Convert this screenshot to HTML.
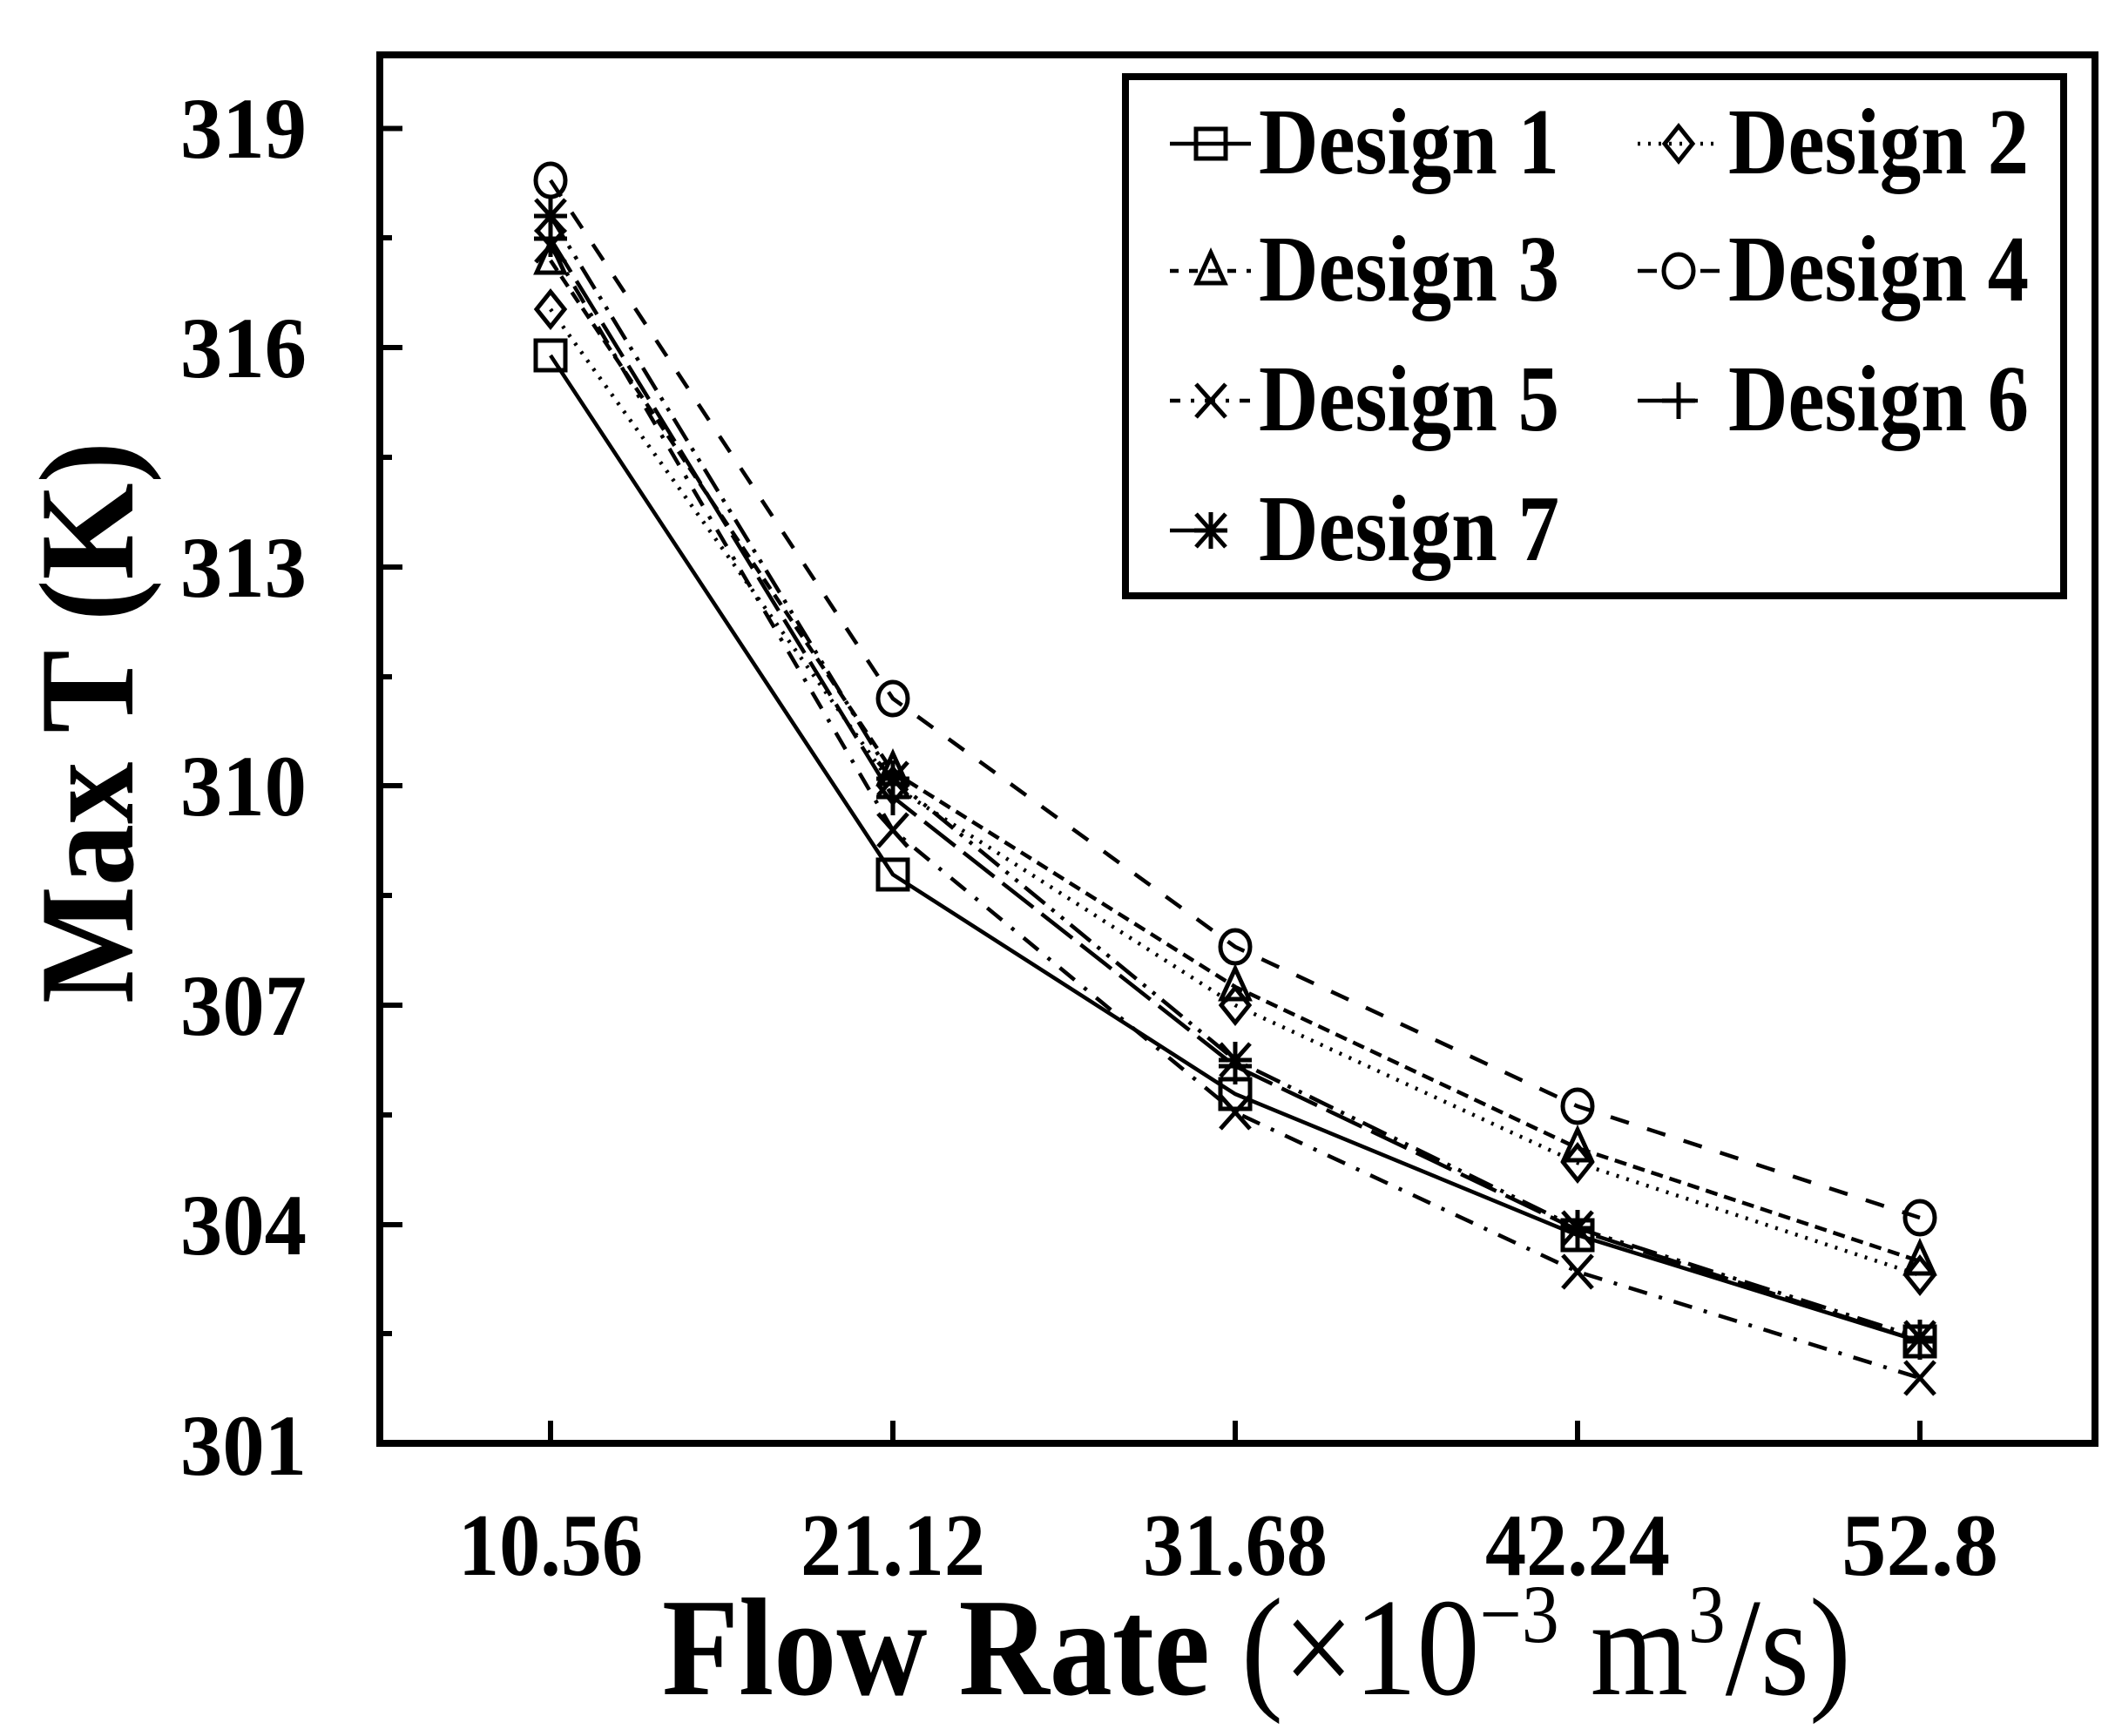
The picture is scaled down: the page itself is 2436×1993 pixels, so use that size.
<!DOCTYPE html>
<html><head><meta charset="utf-8"><style>
html,body{margin:0;padding:0;background:#fff;}
svg{display:block;}
text{font-family:"Liberation Serif",serif;font-weight:bold;fill:#000;}
</style></head><body>
<svg width="2436" height="1993" viewBox="0 0 2436 1993" xmlns="http://www.w3.org/2000/svg">
<defs>
<g id="sq"><rect x="-17" y="-17" width="34" height="34" fill="none" stroke="#000" stroke-width="5"/></g>
<g id="di"><path d="M0,-20 L16,0 L0,20 L-16,0 Z" fill="none" stroke="#000" stroke-width="5"/></g>
<g id="tr"><path d="M0,-21 L16,14 L-16,14 Z" fill="none" stroke="#000" stroke-width="5"/></g>
<g id="ci"><ellipse cx="0" cy="0" rx="17" ry="19" fill="none" stroke="#000" stroke-width="5"/></g>
<g id="xx"><path d="M-17,-19 L17,19 M17,-19 L-17,19" stroke="#000" stroke-width="5"/></g>
<g id="pl"><path d="M-19,0 L19,0 M0,-21 L0,21" stroke="#000" stroke-width="5"/></g>
<g id="as"><path d="M-17,-19 L17,19 M17,-19 L-17,19 M0,-21 L0,21 M-19,0 L19,0" stroke="#000" stroke-width="5"/></g>
</defs>
<rect x="436" y="63" width="1969" height="1594" fill="none" stroke="#000" stroke-width="8"/>
<g stroke="#000" stroke-width="6">
<path d="M436,147.5h26 M436,399h26 M436,651h26 M436,902h26 M436,1154h26 M436,1406h26"/>
<path d="M436,273h14 M436,525h14 M436,777h14 M436,1028h14 M436,1280h14 M436,1531h14"/>
<path d="M632,1657v-26 M1025,1657v-26 M1418,1657v-26 M1811,1657v-26 M2204,1657v-26"/>
</g>
<g font-size="100" text-anchor="end">
<text x="352" y="181" textLength="145" lengthAdjust="spacingAndGlyphs">319</text>
<text x="352" y="433" textLength="145" lengthAdjust="spacingAndGlyphs">316</text>
<text x="352" y="685" textLength="145" lengthAdjust="spacingAndGlyphs">313</text>
<text x="352" y="936" textLength="145" lengthAdjust="spacingAndGlyphs">310</text>
<text x="352" y="1188" textLength="145" lengthAdjust="spacingAndGlyphs">307</text>
<text x="352" y="1440" textLength="145" lengthAdjust="spacingAndGlyphs">304</text>
<text x="352" y="1693" textLength="145" lengthAdjust="spacingAndGlyphs">301</text>
</g>
<g font-size="102">
<text x="526" y="1808" textLength="212" lengthAdjust="spacingAndGlyphs">10.56</text>
<text x="919" y="1808" textLength="212" lengthAdjust="spacingAndGlyphs">21.12</text>
<text x="1312" y="1808" textLength="212" lengthAdjust="spacingAndGlyphs">31.68</text>
<text x="1705" y="1808" textLength="212" lengthAdjust="spacingAndGlyphs">42.24</text>
<text x="2114" y="1808" textLength="180" lengthAdjust="spacingAndGlyphs">52.8</text>
</g>
<text x="760" y="1945" font-size="160" textLength="1365" lengthAdjust="spacingAndGlyphs">Flow Rate <tspan font-weight="normal">(×10</tspan><tspan font-weight="normal" font-size="95" dy="-60">−3</tspan><tspan font-weight="normal" dy="60"> m</tspan><tspan font-weight="normal" font-size="95" dy="-60">3</tspan><tspan font-weight="normal" dy="60">/s)</tspan></text>
<text transform="translate(152,830) rotate(-90)" font-size="155" x="-322" textLength="645" lengthAdjust="spacingAndGlyphs">Max T (K)</text>
<g fill="none" stroke="#000" stroke-width="4.5">
<polyline points="632,408 1025,1004 1418,1256 1811,1418 2204,1540"/>
<polyline stroke-dasharray="3,9" points="632,355 1025,902 1418,1154 1811,1335 2204,1464"/>
<polyline stroke-dasharray="14,8" points="632,299 1025,886 1418,1133 1811,1318 2204,1448"/>
<polyline stroke-dasharray="22,22" points="632,207 1025,802 1418,1087 1811,1270 2204,1398"/>
<polyline stroke-dasharray="22,14,4,14" points="632,282 1025,953 1418,1277 1811,1460 2204,1582"/>
<polyline stroke-dasharray="45,12" points="632,274 1025,915 1418,1224 1811,1412 2204,1540"/>
<polyline stroke-dasharray="30,10,4,10,4,10" points="632,248 1025,894 1418,1217 1811,1410 2204,1536"/>
</g>
<g>
<use href="#sq" x="632" y="408"/><use href="#sq" x="1025" y="1004"/><use href="#sq" x="1418" y="1256"/><use href="#sq" x="1811" y="1418"/><use href="#sq" x="2204" y="1540"/>
<use href="#di" x="632" y="355"/><use href="#di" x="1025" y="902"/><use href="#di" x="1418" y="1154"/><use href="#di" x="1811" y="1335"/><use href="#di" x="2204" y="1464"/>
<use href="#tr" x="632" y="299"/><use href="#tr" x="1025" y="886"/><use href="#tr" x="1418" y="1133"/><use href="#tr" x="1811" y="1318"/><use href="#tr" x="2204" y="1448"/>
<use href="#ci" x="632" y="207"/><use href="#ci" x="1025" y="802"/><use href="#ci" x="1418" y="1087"/><use href="#ci" x="1811" y="1270"/><use href="#ci" x="2204" y="1398"/>
<use href="#xx" x="632" y="282"/><use href="#xx" x="1025" y="953"/><use href="#xx" x="1418" y="1277"/><use href="#xx" x="1811" y="1460"/><use href="#xx" x="2204" y="1582"/>
<use href="#pl" x="632" y="274"/><use href="#pl" x="1025" y="915"/><use href="#pl" x="1418" y="1224"/><use href="#pl" x="1811" y="1412"/><use href="#pl" x="2204" y="1540"/>
<use href="#as" x="632" y="248"/><use href="#as" x="1025" y="894"/><use href="#as" x="1418" y="1217"/><use href="#as" x="1811" y="1410"/><use href="#as" x="2204" y="1536"/>
</g>
<rect x="1292" y="88" width="1077" height="596" fill="#fff" stroke="#000" stroke-width="8"/>
<g fill="none" stroke="#000" stroke-width="4.5">
<line x1="1343" y1="165" x2="1436" y2="165"/>
<line x1="1880" y1="165" x2="1975" y2="165" stroke-dasharray="3,9"/>
<line x1="1343" y1="311" x2="1436" y2="311" stroke-dasharray="10,12"/>
<line x1="1880" y1="311" x2="1975" y2="311" stroke-dasharray="22,50"/>
<line x1="1343" y1="460" x2="1436" y2="460" stroke-dasharray="12,12,4,12"/>
<line x1="1880" y1="460" x2="1975" y2="460" stroke-dasharray="45,12,12,50"/>
<line x1="1343" y1="609" x2="1436" y2="609" stroke-dasharray="30,10,4,50"/>
</g>
<use href="#sq" x="1390" y="165"/><use href="#di" x="1927" y="165"/>
<use href="#tr" x="1390" y="311"/><use href="#ci" x="1927" y="311"/>
<use href="#xx" x="1390" y="460"/><use href="#pl" x="1927" y="460"/>
<use href="#as" x="1390" y="609"/>
<g font-size="108">
<text x="1445" y="199" textLength="345" lengthAdjust="spacingAndGlyphs">Design 1</text>
<text x="1984" y="199" textLength="345" lengthAdjust="spacingAndGlyphs">Design 2</text>
<text x="1445" y="345" textLength="345" lengthAdjust="spacingAndGlyphs">Design 3</text>
<text x="1984" y="345" textLength="345" lengthAdjust="spacingAndGlyphs">Design 4</text>
<text x="1445" y="494" textLength="345" lengthAdjust="spacingAndGlyphs">Design 5</text>
<text x="1984" y="494" textLength="345" lengthAdjust="spacingAndGlyphs">Design 6</text>
<text x="1445" y="643" textLength="345" lengthAdjust="spacingAndGlyphs">Design 7</text>
</g>
</svg>
</body></html>
